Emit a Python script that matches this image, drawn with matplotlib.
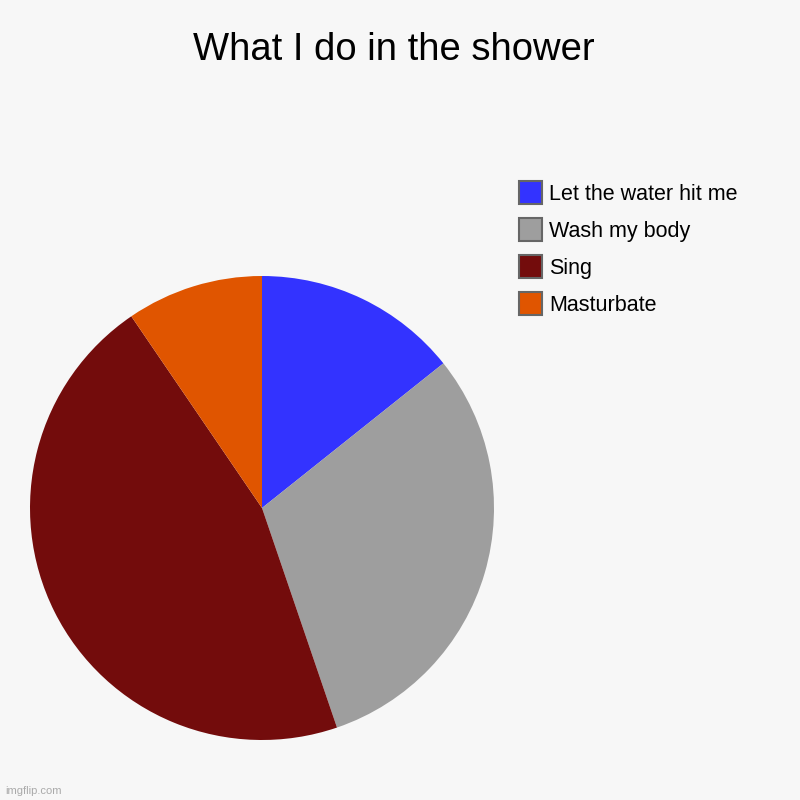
import matplotlib
matplotlib.use("Agg")
import matplotlib.pyplot as plt
from matplotlib.patches import Rectangle

labels = ["Let the water hit me", "Wash my body", "Sing", "Masturbate"]
values = [15, 32, 48, 10]
colors = ["#3333FF", "#9E9E9E", "#730C0C", "#E05500"]
title = "What I do in the shower"

plt.rcParams['font.family'] = ['Liberation Sans', 'DejaVu Sans']
bg = "#F7F7F7"
fig = plt.figure(figsize=(8, 8), dpi=100, facecolor=bg)

W = H = 800.0
cx, cy, r = 262, 508, 232
ax = fig.add_axes([(cx - r) / W, (H - cy - r) / H, 2 * r / W, 2 * r / H])
ax.set_facecolor(bg)
ax.pie(values, colors=colors, startangle=90, counterclock=False, radius=1,
       wedgeprops=dict(linewidth=0))
ax.set_xlim(-1, 1)
ax.set_ylim(-1, 1)
ax.set_aspect('equal')
ax.axis('off')

fig.text(0.5 - 6 / W, 1 - 50 / H, title, ha='center', va='center', fontsize=27.5, color='black')

# legend
y0, dy = 192.5, 37
for i, (lab, col) in enumerate(zip(labels, colors)):
    y = y0 + i * dy
    fig.patches.append(Rectangle((519 / W, 1 - (y + 11.5) / H), 23 / W, 23 / H,
                                 transform=fig.transFigure, facecolor=col,
                                 edgecolor="#666666", linewidth=1.5))
    fig.text(549 / W, 1 - (y + 2) / H, lab, ha='left', va='center', fontsize=15.5, color='black')

fig.text(5 / W, 1 - 791 / H, "imgflip.com", ha='left', va='center', fontsize=8, color='#AAAAAA')

fig.savefig("out.png", dpi=100, facecolor=bg)
